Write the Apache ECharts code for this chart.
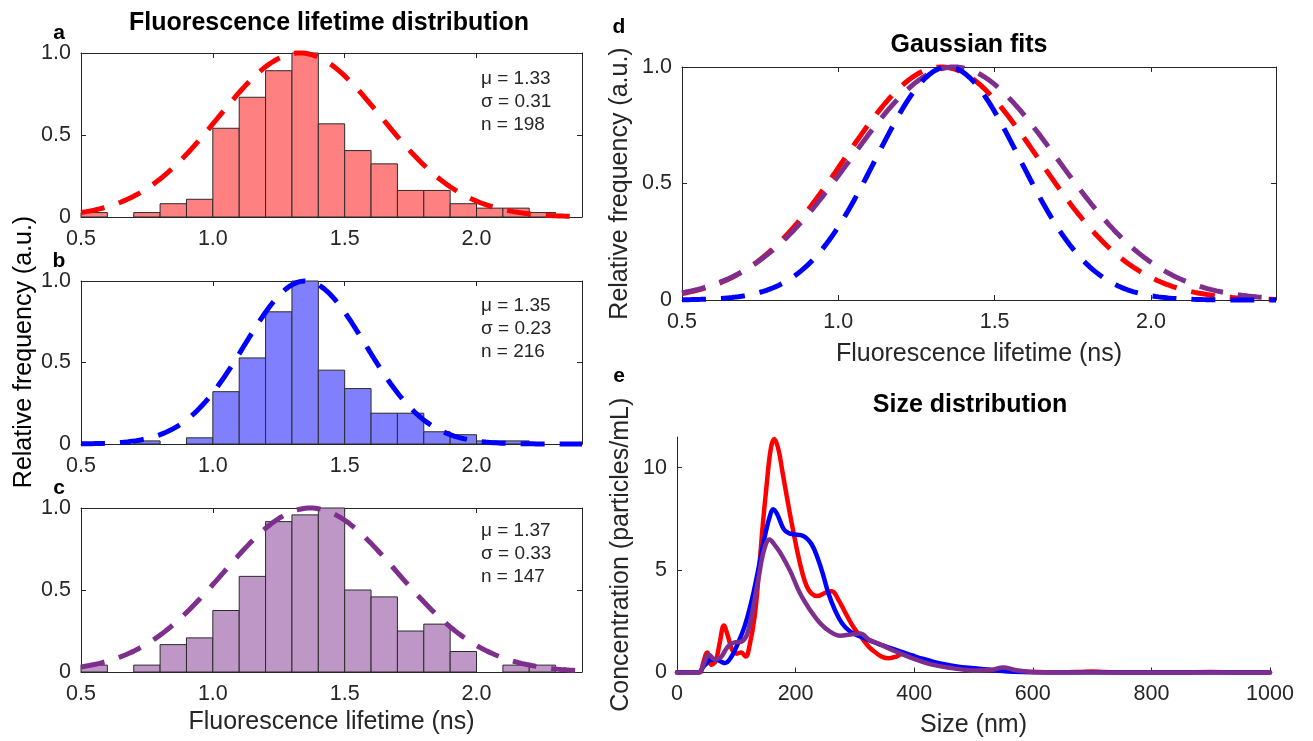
<!DOCTYPE html>
<html>
<head>
<meta charset="utf-8">
<script src="https://cdn.jsdelivr.net/npm/echarts@6/dist/echarts.min.js"></script>
<style>
  html, body { margin: 0; padding: 0; background: #ffffff; }
  #chart { width: 1313px; height: 741px; }
</style>
</head>
<body>
<div id="chart"></div>
<script>
// Histogram bin edges (ns) shared by panels a-c
const binEdges = [0.5, 0.6, 0.7, 0.8, 0.9, 1.0, 1.1, 1.2, 1.3, 1.4, 1.5, 1.6, 1.7, 1.8, 1.9, 2.0, 2.1, 2.2, 2.3, 2.4];

// Relative frequency per bin (normalised to the tallest bin)
const freqA = [0.027, 0, 0.027, 0.081, 0.108, 0.541, 0.730, 0.892, 1.0, 0.568, 0.405, 0.324, 0.162, 0.162, 0.081, 0.054, 0.054, 0.027, 0];
const freqB = [0, 0, 0.019, 0, 0.038, 0.321, 0.528, 0.811, 1.0, 0.453, 0.340, 0.189, 0.189, 0.075, 0.057, 0.019, 0.019, 0, 0];
const freqC = [0.042, 0, 0.042, 0.167, 0.208, 0.375, 0.583, 0.917, 0.958, 1.0, 0.5, 0.458, 0.25, 0.292, 0.125, 0, 0.042, 0.042, 0];

// Gaussian fit parameters and sample counts (a, b, c)
const fitMu = [1.33, 1.35, 1.37];
const fitSigma = [0.31, 0.23, 0.33];
const sampleN = [198, 216, 147];

// Tick values
const lifetimeTicks = [0.5, 1.0, 1.5, 2.0];
const freqTicks = [0, 0.5, 1.0];
const sizeTicks = [0, 200, 400, 600, 800, 1000];
const concTicks = [0, 5, 10];

// Size distributions (nm, particles/mL)
const redSize = [0, 38, 44, 51, 58, 65, 72, 79, 86, 93, 101, 108, 116, 122, 131, 138, 144, 151, 158, 164, 171, 178, 186, 194, 203, 211, 219, 227, 236, 250, 261, 272, 284, 298, 310, 324, 336, 347, 358, 370, 380, 392, 403, 420, 442, 460, 481, 503, 526, 550, 575, 600, 650, 680, 700, 720, 760, 850, 900, 950, 1000];
const redConc = [0, 0, 0.46, 0.98, 0.38, 0.55, 1.44, 2.29, 1.76, 1.11, 0.92, 0.98, 0.78, 1.27, 2.75, 4.87, 7.0, 9.1, 10.9, 11.4, 10.9, 9.77, 8.46, 7.2, 5.9, 4.9, 4.2, 3.85, 3.73, 3.89, 3.97, 3.56, 2.91, 2.2, 1.75, 1.24, 0.95, 0.75, 0.70, 0.78, 0.91, 0.8, 0.67, 0.5, 0.34, 0.28, 0.23, 0.18, 0.13, 0.09, 0.05, 0.02, 0.01, 0.03, 0.05, 0.02, 0, 0, 0.02, 0, 0];
const blueSize = [0, 36, 44, 50, 56, 67, 75, 81, 92, 103, 114, 125, 136, 147, 156, 162, 169, 180, 189, 196, 213, 227, 238, 247, 255, 266, 278, 292, 309, 330, 347, 363, 380, 397, 414, 433, 453, 472, 492, 526, 550, 580, 620, 700, 800, 900, 1000];
const blueConc = [0, 0, 0.26, 0.45, 0.62, 0.62, 0.52, 0.46, 0.78, 1.44, 2.25, 3.4, 4.87, 6.5, 7.57, 7.97, 7.73, 7.0, 6.8, 6.75, 6.67, 6.26, 5.52, 4.71, 3.89, 3.07, 2.42, 2.0, 1.76, 1.5, 1.32, 1.16, 1.0, 0.83, 0.67, 0.52, 0.39, 0.3, 0.23, 0.13, 0.07, 0.02, 0, 0, 0, 0, 0];
const purpleSize = [0, 36, 44, 49, 54, 60, 64, 70, 75, 86, 97, 108, 113, 118, 123, 128, 138, 147, 156, 164, 174, 191, 207, 224, 241, 258, 275, 292, 309, 324, 341, 358, 375, 392, 425, 459, 504, 530, 550, 570, 600, 700, 800, 900, 1000];
const purpleConc = [0, 0, 0.33, 0.7, 0.87, 0.7, 0.62, 0.68, 0.78, 1.27, 1.47, 1.5, 1.6, 1.85, 2.4, 3.07, 4.7, 6.0, 6.5, 6.26, 5.85, 4.95, 3.89, 3.07, 2.42, 2.0, 1.8, 1.85, 1.9, 1.6, 1.4, 1.16, 0.95, 0.75, 0.42, 0.23, 0.1, 0.12, 0.25, 0.12, 0.02, 0, 0, 0, 0];

const RED = '#ff0000', BLUE = '#0000ff', PURPLE = '#7e2f8e';
const FILL = ['#ff8080', '#8080ff', '#be97c6'];
const INK = '#262626';
const FONT = "'Liberation Sans', Arial, Helvetica, sans-serif";
const TICK_SIZE = 21.5;
const NAME_SIZE = 25;

const fmtOne = v => (v === 0 ? '0' : v.toFixed(1));
const fmtInt = v => String(v);

// Normalised Gaussian curve evaluated on the lifetime axis from a fit's mu and sigma
function fitCurve(mu, sigma) {
  const pts = [];
  for (let i = 0; i <= 380; i++) {
    const x = 0.5 + i * 0.005;
    pts.push([x, Math.exp(-((x - mu) * (x - mu)) / (2 * sigma * sigma))]);
  }
  return pts;
}

function pairs(xs, ys) { return xs.map((x, i) => [x, ys[i]]); }

function baseAxis(gridIndex, position, min, max, ticks, fmt, showLabel) {
  return {
    type: 'value', gridIndex, position, min, max,
    axisLine: { show: true, onZero: false, lineStyle: { color: INK, width: 1 } },
    axisTick: { show: true, inside: true, length: 5, customValues: ticks, lineStyle: { color: INK, width: 1 } },
    axisLabel: { show: showLabel, customValues: ticks, formatter: fmt, color: INK, fontSize: TICK_SIZE, fontFamily: FONT, margin: 10 },
    splitLine: { show: false },
    nameTextStyle: { fontSize: NAME_SIZE, fontFamily: FONT, color: INK }
  };
}

const grids = [
  { left: 81, top: 53, width: 501, height: 164 },   // a
  { left: 81, top: 281, width: 501, height: 163 },  // b
  { left: 81, top: 508, width: 501, height: 164 },  // c
  { left: 682, top: 67, width: 594, height: 233 },  // d
  { left: 677, top: 437, width: 593, height: 235.5 } // e
].map(g => Object.assign({ containLabel: false, outerBoundsMode: 'none', show: false }, g));

const xAxes = [];
const yAxes = [];
// Boxed lifetime panels: a, b, c, d
for (let g = 0; g < 4; g++) {
  const bottom = baseAxis(g, 'bottom', 0.5, 2.4, lifetimeTicks, fmtOne, true);
  bottom.axisLabel.margin = 11;
  if (g === 2 || g === 3) {
    bottom.name = 'Fluorescence lifetime (ns)';
    bottom.nameLocation = 'middle';
    bottom.nameGap = g === 2 ? 38 : 42;
  }
  xAxes.push(bottom);
  xAxes.push(baseAxis(g, 'top', 0.5, 2.4, lifetimeTicks, fmtOne, false));
  const left = baseAxis(g, 'left', 0, 1, freqTicks, fmtOne, true);
  if (g === 3) {
    left.name = 'Relative frequency (a.u.)';
    left.nameLocation = 'middle';
    left.nameGap = 49;
  }
  yAxes.push(left);
  yAxes.push(baseAxis(g, 'right', 0, 1, freqTicks, fmtOne, false));
}
// Size panel e: open axes
const sizeX = baseAxis(4, 'bottom', 0, 1000, sizeTicks, fmtInt, true);
sizeX.axisLabel.margin = 11;
sizeX.name = 'Size (nm)';
sizeX.nameLocation = 'middle';
sizeX.nameGap = 40;
xAxes.push(sizeX);
const concY = baseAxis(4, 'left', 0, 11.5, concTicks, fmtInt, true);
concY.name = 'Concentration (particles/mL)';
concY.nameLocation = 'middle';
concY.nameGap = 43;
yAxes.push(concY);

function histSeries(axisIdx, freq, fill) {
  return {
    type: 'custom', xAxisIndex: axisIdx, yAxisIndex: axisIdx,
    data: freq.map((f, i) => [binEdges[i], binEdges[i + 1], f]),
    encode: { x: [0, 1], y: 2 },
    silent: true, animation: false, z: 2,
    renderItem(params, api) {
      const h = api.value(2);
      if (!(h > 0)) return null;
      const p0 = api.coord([api.value(0), h]);
      const p1 = api.coord([api.value(1), 0]);
      return {
        type: 'rect',
        shape: { x: p0[0], y: p0[1], width: p1[0] - p0[0], height: p1[1] - p0[1] },
        style: { fill, stroke: '#2b2b2b', lineWidth: 1 }
      };
    }
  };
}

function fitSeries(axisIdx, k, color, z) {
  return {
    type: 'line', xAxisIndex: axisIdx, yAxisIndex: axisIdx,
    data: fitCurve(fitMu[k], fitSigma[k]),
    symbol: 'none', showSymbol: false, clip: false, silent: true, animation: false, z,
    lineStyle: { color, width: 5, type: [24, 15], cap: 'butt' }
  };
}

function sizeSeries(xs, ys, color, z) {
  return {
    type: 'line', xAxisIndex: 8, yAxisIndex: 8,
    data: pairs(xs, ys),
    symbol: 'none', showSymbol: false, smooth: 0.4,
    silent: true, animation: false, z,
    lineStyle: { color, width: 4.5, cap: 'round', join: 'round' }
  };
}

const series = [
  histSeries(0, freqA, FILL[0]), fitSeries(0, 0, RED, 5),
  histSeries(2, freqB, FILL[1]), fitSeries(2, 1, BLUE, 5),
  histSeries(4, freqC, FILL[2]), fitSeries(4, 2, PURPLE, 5),
  fitSeries(6, 0, RED, 5), fitSeries(6, 2, PURPLE, 6), fitSeries(6, 1, BLUE, 7),
  sizeSeries(redSize, redConc, RED, 5),
  sizeSeries(blueSize, blueConc, BLUE, 6),
  sizeSeries(purpleSize, purpleConc, PURPLE, 7)
];

function label(text, x, y, size, bold, extra) {
  return Object.assign({
    type: 'text', x, y, silent: true, z: 20,
    style: {
      text, fill: '#000000',
      font: (bold ? 'bold ' : '') + size + 'px ' + FONT,
      textAlign: 'center', textVerticalAlign: 'middle',
      align: 'center', verticalAlign: 'middle'
    }
  }, extra || {});
}

function statsLines(k, x, y0) {
  const lines = ['\u03bc = ' + fitMu[k].toFixed(2), '\u03c3 = ' + fitSigma[k].toFixed(2), 'n = ' + sampleN[k]];
  return lines.map((t, i) => {
    const el = label(t, x, y0 + i * 23, 19, false);
    el.style.textAlign = 'left';
    el.style.align = 'left';
    el.style.fill = INK;
    return el;
  });
}

const graphic = [
  label('Fluorescence lifetime distribution', 329, 23, 25, true),
  label('Gaussian fits', 969, 45, 25, true),
  label('Size distribution', 970, 405, 25, true),
  label('a', 59, 33, 21, true),
  label('b', 59, 261, 21, true),
  label('c', 59, 488, 21, true),
  label('d', 619, 27, 21, true),
  label('e', 619, 376, 21, true),
  label('Relative frequency (a.u.)', 24, 352, NAME_SIZE, false, { rotation: Math.PI / 2 })
].concat(statsLines(0, 481, 79), statsLines(1, 481, 306), statsLines(2, 481, 531));

const chart = echarts.init(document.getElementById('chart'), null, { renderer: 'canvas' });
chart.setOption({
  backgroundColor: '#ffffff',
  animation: false,
  textStyle: { fontFamily: FONT },
  grid: grids,
  xAxis: xAxes,
  yAxis: yAxes,
  series,
  graphic
});
</script>
</body>
</html>
